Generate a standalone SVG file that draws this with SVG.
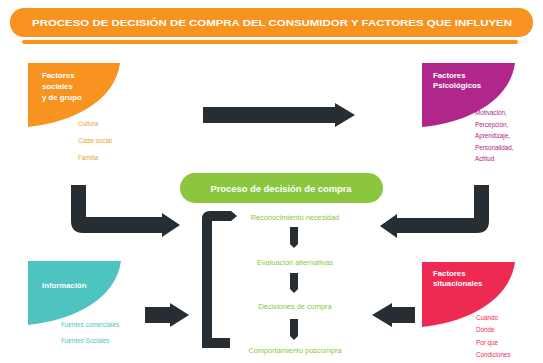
<svg xmlns="http://www.w3.org/2000/svg" width="543" height="363" viewBox="0 0 543 363">
<style>
text{font-family:"Liberation Sans",Arial,sans-serif}
.ttl{fill:#fff;font-weight:bold;font-size:9.6px}
.hd{fill:#fff;font-weight:bold;font-size:7.8px}
.it{font-size:6.3px}
.stp{fill:#8cc63f;font-size:7.4px;text-anchor:middle}
.dk{fill:#262d33}
</style>
<rect width="543" height="363" fill="#fff"/>
<g id="title">
<rect x="10" y="8" width="523" height="29" rx="14" fill="#f7931e"/>
<rect x="22" y="40" width="496" height="4" rx="2" fill="#f7931e"/>
<text class="ttl" x="272" y="25.5" text-anchor="middle" textLength="480" lengthAdjust="spacingAndGlyphs">PROCESO DE DECISIÓN DE COMPRA DEL CONSUMIDOR Y FACTORES QUE INFLUYEN</text>
</g>
<g id="sociales">
<path d="M28,63 H120 C115,100 75,122 28,127 Z" fill="#f7931e"/>
<text class="hd" x="42" y="78">Factores</text>
<text class="hd" x="42" y="89">sociales</text>
<text class="hd" x="42" y="100">y de grupo</text>
<g class="it" fill="#e8a33a">
<text x="78" y="126">Cultura</text>
<text x="78" y="143">Clase social</text>
<text x="78" y="160">Familia</text>
</g>
</g>
<g id="psicologicos">
<path d="M422,63 H515 C510,100 470,122 422,127 Z" fill="#b0268a"/>
<text class="hd" x="433" y="78">Factores</text>
<text class="hd" x="433" y="87.5">Psicológicos</text>
<g class="it" fill="#b0268a">
<text x="475" y="115">Motivación,</text>
<text x="475" y="126.5">Percepción,</text>
<text x="475" y="138">Aprendizaje,</text>
<text x="475" y="150">Personalidad,</text>
<text x="475" y="161">Actitud</text>
</g>
</g>
<g id="informacion">
<path d="M28,261 H121 C116,298 76,320 28,325 Z" fill="#4dc4bf"/>
<text class="hd" x="42" y="288">Información</text>
<g class="it" fill="#4dc4bf">
<text x="61" y="327">Fuentes comerciales</text>
<text x="61" y="343">Fuentes Sociales</text>
</g>
</g>
<g id="situacionales">
<path d="M422,262 H515 C510,299 470,322 422,327 Z" fill="#ef2a52"/>
<text class="hd" x="433" y="276">Factores</text>
<text class="hd" x="433" y="286">situacionales</text>
<g class="it" fill="#ef2a52">
<text x="476" y="320">Cuándo</text>
<text x="476" y="332">Dónde</text>
<text x="476" y="345">Por qué</text>
<text x="476" y="357">Condiciones</text>
</g>
</g>
<g id="proceso">
<rect x="180" y="173" width="203" height="30" rx="15" fill="#8cc63f"/>
<text x="281" y="191.5" fill="#fff" font-weight="bold" font-size="9.4" text-anchor="middle">Proceso de decisión de compra</text>
</g>
<g id="steps">
<text class="stp" x="295" y="219.5">Reconocimiento necesidad</text>
<text class="stp" x="295" y="264.5">Evaluación alternativas</text>
<text class="stp" x="295" y="308.5">Decisiones de compra</text>
<text class="stp" x="295" y="352.5">Comportamiento poscompra</text>
</g>
<g id="connectors" class="dk">
<path d="M203,107 H335 V103 L355,115 L335,127 V123 H203 Z"/>
<path d="M71,185 H86 V217 H162 V213 L180,225 L162,237 V233 H83 Q71,233 71,221 Z"/>
<path d="M489,185 H474 V218 H397 V214 L380,226 L397,238 V233 H477 Q489,233 489,221 Z"/>
<path d="M145,307 H170 V303 L189,315 L170,327 V323 H145 Z"/>
<path d="M415,307 H392 V303 L372,315 L392,327 V323 H415 Z"/>
<path d="M237,216 L231,211 H210 Q202,211 202,219 V348 H230 V338 H212 V221 H231 Z"/>
<path d="M290,227 H298 V244 L294,248 L290,244 Z"/>
<path d="M290,273 H298 V289 L294,293 L290,289 Z"/>
<path d="M290,319 H298 V336 L294,340 L290,336 Z"/>
</g>
</svg>
